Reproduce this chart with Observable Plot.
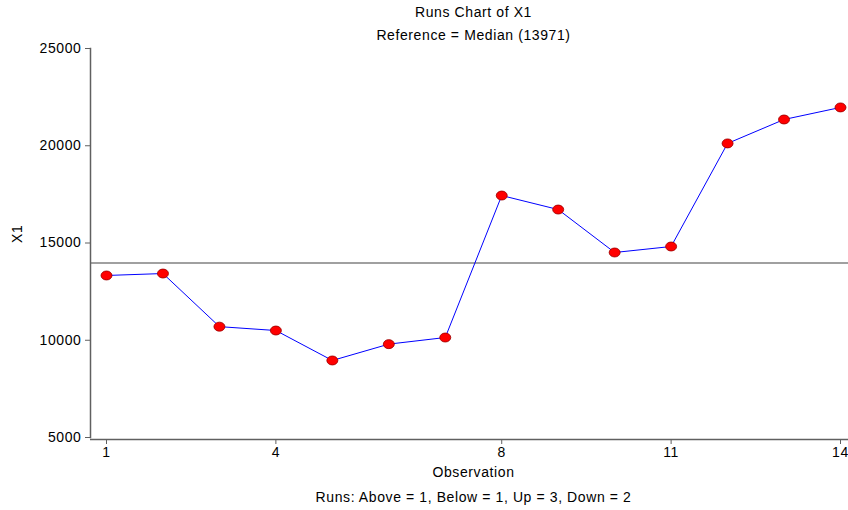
<!DOCTYPE html>
<html><head><meta charset="utf-8">
<script src="https://cdn.jsdelivr.net/npm/d3@7"></script>
<script src="https://cdn.jsdelivr.net/npm/@observablehq/plot@0.6"></script>
<style>
body{margin:0;background:#fff;font-family:Arial,"Liberation Sans",sans-serif;}
</style></head>
<body><div id="chart"></div>
<script>
const observations = [1,2,3,4,5,6,7,8,9,10,11,12,13,14];
const x1Values = [13330,13430,10700,10500,8960,9800,10140,17440,16720,14512,14820,20120,21350,21970];
const medianValue = 13971;
const xTicks = [1,4,8,11,14];
const yTicks = [5000,10000,15000,20000,25000];
const titleText = "Runs Chart of X1";
const subtitleText = "Reference = Median (13971)";
const footerText = "Runs: Above = 1, Below = 1, Up = 3, Down = 2";

const data = observations.map((o,i)=>({obs:o, value:x1Values[i]}));

const ellipse = {
  draw(ctx, size) {
    const rx = 5.5, ry = 4.5, k = 0.5523;
    ctx.moveTo(rx, 0);
    ctx.bezierCurveTo(rx, ry*k, rx*k, ry, 0, ry);
    ctx.bezierCurveTo(-rx*k, ry, -rx, ry*k, -rx, 0);
    ctx.bezierCurveTo(-rx, -ry*k, -rx*k, -ry, 0, -ry);
    ctx.bezierCurveTo(rx*k, -ry, rx, -ry*k, rx, 0);
    ctx.closePath();
  }
};

const W = 848, H = 510, mL = 90, mR = 0, mT = 48, mB = 73;
const step = 734/13;
const xDomain = [1 - 16/step, 14 + 8/step];
const FS = 14;

const plot = Plot.plot({
  width: W, height: H,
  marginLeft: mL, marginRight: mR, marginTop: mT, marginBottom: mB,
  style: {fontFamily: "Arial, 'Liberation Sans', sans-serif", fontSize: "14px", color: "#000", background: "#fff", letterSpacing: "0.6px"},
  x: {domain: xDomain, label: null},
  y: {domain: [5000, 25000], label: null},
  marks: [
    Plot.ruleY([medianValue], {stroke: "#808080", strokeWidth: 1.5}),
    Plot.frame({anchor: "left", stroke: "#606060", strokeWidth: 1.5}),
    Plot.ruleY([5000], {stroke: "#606060", strokeWidth: 1.5, dy: 2}),
    Plot.axisY({ticks: yTicks, tickSize: 5, tickPadding: 4, tickFormat: d => String(d), stroke: "#606060", fill: "#000", fontSize: FS, label: null}),
    Plot.axisX({ticks: xTicks, tickSize: 5, tickPadding: 3, tickFormat: d => String(d), stroke: "#606060", fill: "#000", fontSize: FS, dy: 2, label: null}),
    Plot.line(data, {x: "obs", y: "value", stroke: "#0000ff", strokeWidth: 1}),
    Plot.dot(data, {x: "obs", y: "value", symbol: ellipse, fill: "#ff0000", stroke: "#990000", strokeWidth: 0.8}),
    Plot.text([titleText], {frameAnchor: "top", lineAnchor: "middle", dy: -36, dx: 4, fontSize: FS, fill: "#000"}),
    Plot.text([subtitleText], {frameAnchor: "top", lineAnchor: "middle", dy: -12.5, dx: 4, fontSize: FS, fill: "#000"}),
    Plot.text(["Observation"], {frameAnchor: "bottom", lineAnchor: "middle", dy: 35, dx: 4, fontSize: FS, fill: "#000"}),
    Plot.text([footerText], {frameAnchor: "bottom", lineAnchor: "middle", dy: 60, dx: 4, fontSize: FS, fill: "#000"}),
    Plot.text(["X1"], {frameAnchor: "left", dx: -73, rotate: -90, fontSize: FS, fill: "#000"})
  ]
});
document.getElementById("chart").appendChild(plot);
</script></body></html>
